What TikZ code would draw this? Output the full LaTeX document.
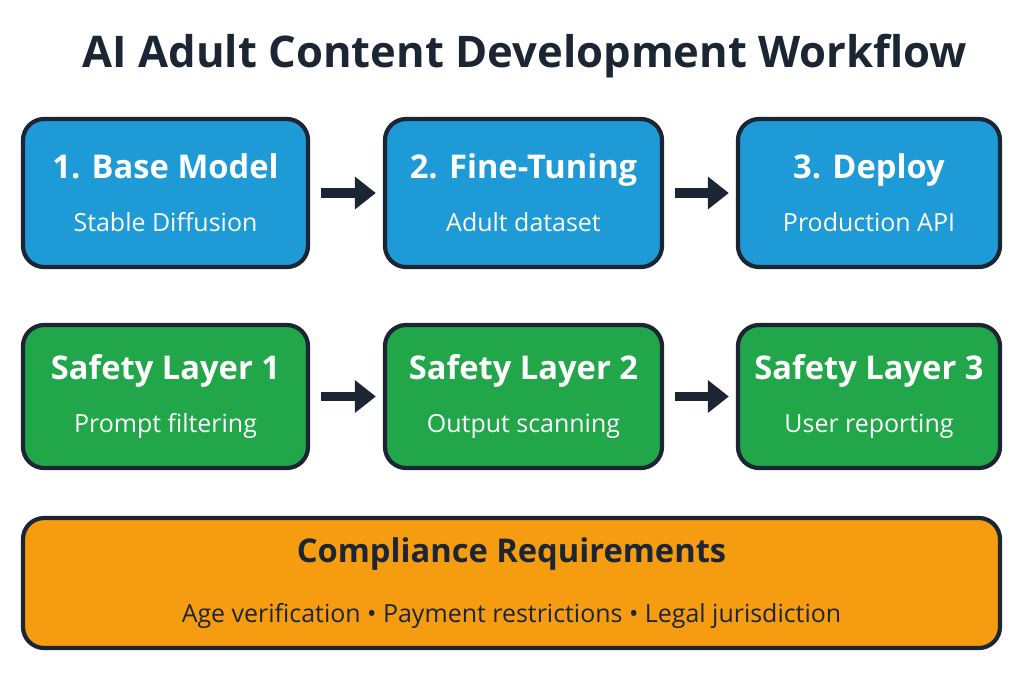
\documentclass[tikz,border=0pt]{standalone}
\usepackage{fontspec}
\setmainfont{Open Sans}
\usetikzlibrary{positioning,arrows.meta}
\definecolor{stepblue}{HTML}{1E9AD6}
\definecolor{safegreen}{HTML}{22A64A}
\definecolor{rulesorange}{HTML}{F59C10}
\definecolor{edgedark}{HTML}{1B2533}
\tikzset{
  box/.style={draw=edgedark, line width=1.2pt, rounded corners=6pt, text=white,
    minimum height=1.48cm, align=center, inner sep=0pt},
  stage/.style={box, fill=stepblue},
  safe/.style={box, fill=safegreen, minimum height=1.43cm},
  flow/.style={-{Triangle[length=6pt,width=9pt]}, line width=2.6pt, draw=edgedark, shorten <=3pt, shorten >=2pt}
}
\begin{document}
\begin{tikzpicture}
\useasboundingbox (0,0) rectangle (10.24,-6.83);
\node[font=\fontsize{12.4}{15}\selectfont\bfseries, text=edgedark] (title) at (5.25,-0.56) {AI Adult Content Development Workflow};
% top row
\node[stage, minimum width=2.85cm] (base) at (1.655,-1.93) {\textbf{\fontsize{9.3}{11}\selectfont 1. Base Model}\\[3pt]{\fontsize{7.1}{9}\selectfont Stable Diffusion}};
\node[stage, minimum width=2.77cm] (tune) at (5.235,-1.93) {\textbf{\fontsize{9.3}{11}\selectfont 2. Fine-Tuning}\\[3pt]{\fontsize{7.1}{9}\selectfont Adult dataset}};
\node[stage, minimum width=2.62cm] (deploy) at (8.69,-1.93) {\textbf{\fontsize{9.3}{11}\selectfont 3. Deploy}\\[3pt]{\fontsize{7.1}{9}\selectfont Production API}};
% safety row
\node[safe, minimum width=2.85cm] (layerA) at (1.655,-3.965) {\textbf{\fontsize{9.3}{11}\selectfont Safety Layer 1}\\[3pt]{\fontsize{7.1}{9}\selectfont Prompt filtering}};
\node[safe, minimum width=2.77cm] (layerB) at (5.235,-3.965) {\textbf{\fontsize{9.3}{11}\selectfont Safety Layer 2}\\[3pt]{\fontsize{7.1}{9}\selectfont Output scanning}};
\node[safe, minimum width=2.62cm] (layerC) at (8.69,-3.965) {\textbf{\fontsize{9.3}{11}\selectfont Safety Layer 3}\\[3pt]{\fontsize{7.1}{9}\selectfont User reporting}};
% compliance
\node[box, fill=rulesorange, text=edgedark, minimum width=9.77cm, minimum height=1.3cm] (rules) at (5.115,-5.83) {\textbf{\fontsize{9.3}{11}\selectfont Compliance Requirements}\\[5pt]{\fontsize{7.1}{9}\selectfont Age verification • Payment restrictions • Legal jurisdiction}};
\draw[flow] (base) -- (tune);
\draw[flow] (tune) -- (deploy);
\draw[flow] (layerA) -- (layerB);
\draw[flow] (layerB) -- (layerC);
\end{tikzpicture}
\end{document}
